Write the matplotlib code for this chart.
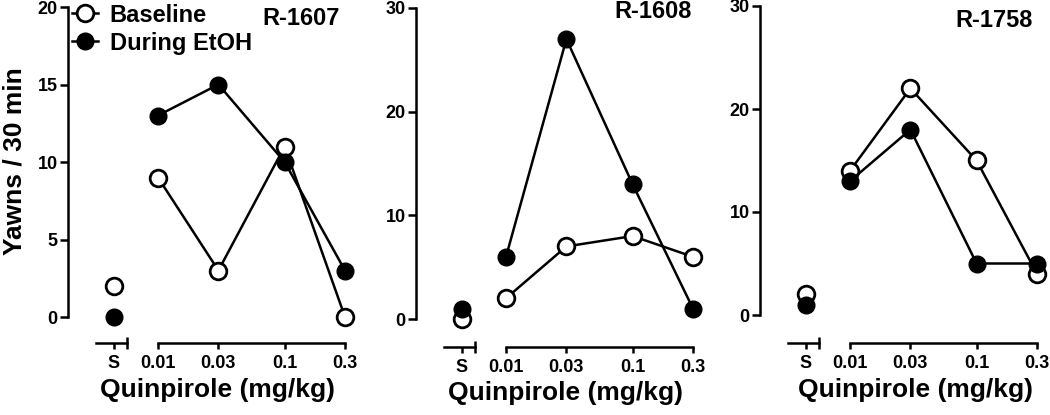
"""Quinpirole-induced yawning: baseline vs during EtOH, three subjects."""

import numpy as np
import matplotlib

matplotlib.use("Agg")

import matplotlib.pyplot as plt
from matplotlib.ticker import FixedLocator, NullFormatter

plt.rcParams["font.family"] = ["Liberation Sans", "DejaVu Sans"]
plt.rcParams["font.weight"] = "bold"

SUBJECTS = ["R-1607", "R-1608", "R-1758"]
DOSES = [0.01, 0.03, 0.1, 0.3]
DOSE_LABELS = ["0.01", "0.03", "0.1", "0.3"]
BASE_SALINE = [2, 0, 2]
BASE_DOSE = [[9, 3, 11, 0], [2, 7, 8, 6], [14, 22, 15, 4]]
ETOH_SALINE = [0, 1, 1]
ETOH_DOSE = [[13, 15, 10, 3], [6, 27, 13, 1], [13, 18, 5, 5]]
Y_MAX = [20, 30, 30]
Y_STEP = [5, 10, 10]

# layout, in pixels of the 1050x415 canvas
W, H = 1050, 415
X0 = [68, 416, 760]
AX_TOP = [7, 8, 6]
AX_BOT = [317, 319, 315]
XAXIS_Y = [343, 347, 343]
XLABEL_X = [218, 566, 915]
XLABEL_BASE = [397, 400, 397]
TITLE_RIGHT = [340, 692, 1033]
TITLE_BASE = [25, 18, 27]
PX_PER_DECADE = 187 / np.log10(30)

LW = 1.8
MS = 12
TICK_FS = 13
LABEL_FS = 19
TITLE_FS = 17


def rect(left, right, top, bottom):
    return [left / W, 1 - bottom / H, (right - left) / W, (bottom - top) / H]


def style_x(ax, offset_px):
    ax.spines["bottom"].set_position(("outward", offset_px * 72 / 100))
    ax.spines["bottom"].set_linewidth(LW)
    ax.spines["top"].set_visible(False)
    ax.spines["right"].set_visible(False)
    ax.tick_params(axis="x", which="major", direction="out", length=4, width=LW,
                   pad=4.5, labelsize=TICK_FS)
    ax.tick_params(axis="x", which="minor", direction="inout", length=9, width=LW)
    ax.xaxis.set_minor_formatter(NullFormatter())


fig = plt.figure(figsize=(W / 100, H / 100), dpi=100)

handles = []
for i, name in enumerate(SUBJECTS):
    x0 = X0[i]
    off = XAXIS_Y[i] - AX_BOT[i]

    # saline ("S") part with the y axis
    ax_s = fig.add_axes(rect(x0, x0 + 59, AX_TOP[i], AX_BOT[i]))
    ax_s.patch.set_visible(False)
    ax_s.set_xlim(-3.5, 1.0)
    ax_s.set_ylim(0, Y_MAX[i])
    style_x(ax_s, off)
    ax_s.spines["bottom"].set_bounds(-1.4, 1.0)
    ax_s.spines["left"].set_linewidth(LW)
    ax_s.set_xticks([0], ["S"])
    ax_s.xaxis.set_minor_locator(FixedLocator([1.0]))
    ax_s.set_yticks(np.arange(0, Y_MAX[i] + 1, Y_STEP[i]))
    ax_s.tick_params(axis="y", direction="out", length=6, width=LW, pad=1.5,
                     labelsize=TICK_FS)

    ax_s.plot([0], [BASE_SALINE[i]], "o", color="black", mfc="white", ms=MS,
              mew=2, clip_on=False, zorder=3)
    ax_s.plot([0], [ETOH_SALINE[i]], "o", color="black", ms=MS,
              clip_on=False, zorder=4)

    # dose part, log scale
    ax_d = fig.add_axes(rect(x0 + 80, x0 + 290, AX_TOP[i], AX_BOT[i]), sharey=ax_s)
    ax_d.patch.set_visible(False)
    ax_d.set_xscale("log")
    lo = 10 ** (np.log10(DOSES[0]) - 10 / PX_PER_DECADE)
    hi = 10 ** (np.log10(DOSES[-1]) + 13 / PX_PER_DECADE)
    ax_d.set_xlim(lo, hi)
    style_x(ax_d, off)
    ax_d.spines["left"].set_visible(False)
    ax_d.spines["bottom"].set_bounds(DOSES[0], DOSES[-1])
    ax_d.set_xticks(DOSES, DOSE_LABELS)
    ax_d.xaxis.set_minor_locator(FixedLocator([DOSES[0], DOSES[-1]]))
    ax_d.tick_params(axis="y", left=False, labelleft=False)

    hb, = ax_d.plot(DOSES, BASE_DOSE[i], "-o", color="black", mfc="white",
                    ms=MS, mew=2, lw=LW, clip_on=False, zorder=3, label="Baseline")
    he, = ax_d.plot(DOSES, ETOH_DOSE[i], "-o", color="black", ms=MS, lw=LW,
                    clip_on=False, zorder=4, label="During EtOH")
    if i == 0:
        handles = [hb, he]

    fig.text(TITLE_RIGHT[i] / W, 1 - TITLE_BASE[i] / H, name, ha="right",
             va="baseline", fontsize=TITLE_FS, fontweight="bold")
    fig.text(XLABEL_X[i] / W, 1 - XLABEL_BASE[i] / H, "Quinpirole (mg/kg)",
             ha="center", va="baseline", fontsize=LABEL_FS, fontweight="bold")

fig.text(15 / W, 1 - 161 / H, "Yawns / 30 min", rotation=90, ha="center",
         va="center", fontsize=LABEL_FS, fontweight="bold")

fig.legend(handles=handles, loc="upper left", bbox_to_anchor=(72 / W, 1 - 3.5 / H),
           frameon=False, fontsize=TITLE_FS, handlelength=1.1, handletextpad=0.5,
           labelspacing=0.22, borderaxespad=0, borderpad=0)

fig.savefig("out.png", dpi=100)
plt.close(fig)
